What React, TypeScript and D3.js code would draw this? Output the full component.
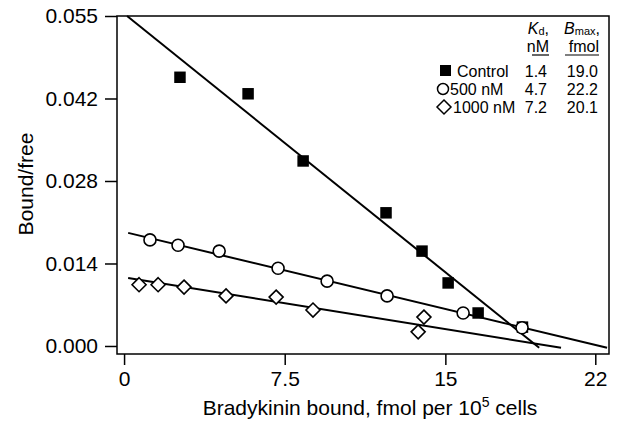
import React, { useEffect, useRef } from 'react'
import { select, scaleLinear, axisLeft, axisBottom, line, symbol, symbolSquare } from 'd3'

// values
const xTicks = [0, 7.5, 15, 22]
const yTicks = [0, 0.014, 0.028, 0.042, 0.056]
const yTickLabels = ['0.000', '0.014', '0.028', '0.042', '0.055']

const controlX = [2.61, 5.79, 8.36, 12.23, 13.91, 15.13, 16.53, 18.6]
const controlY = [0.0456, 0.0428, 0.0314, 0.0226, 0.0161, 0.0107, 0.0056, 0.0032]
const nm500X = [1.21, 2.52, 4.44, 7.19, 9.48, 12.28, 15.83, 18.58]
const nm500Y = [0.018, 0.0171, 0.0161, 0.0132, 0.011, 0.0085, 0.0056, 0.0031]
const nm1000X = [0.7, 1.59, 2.8, 4.76, 7.1, 8.82, 13.73, 14.0]
const nm1000Y = [0.0104, 0.0104, 0.01, 0.0085, 0.0083, 0.0061, 0.0024, 0.0049]

// fitted lines: [start, end] in data units
const controlFit = [[0.14, 0.056], [19.38, -0.0003]]
const nm500Fit = [[0.19, 0.0192], [22.55, -0.0003]]
const nm1000Fit = [[0.19, 0.01154], [20.4, -0.0003]]

const legendNames = ['Control', '500 nM', '1000 nM']
const legendKd = ['1.4', '4.7', '7.2']
const legendBmax = ['19.0', '22.2', '20.1']

const FONT = 'Liberation Sans, Arial, Helvetica, sans-serif'

function Chart() {
  const ref = useRef(null)

  useEffect(() => {
    const svg = select(ref.current)
    svg.selectAll('*').remove()

    const left = 117, right = 609, top = 16, bottom = 354

    const x = scaleLinear().domain([-0.33, 22.64]).range([left, right])
    const y = scaleLinear().domain([-0.00136, 0.056]).range([bottom, top])

    // frame
    svg.append('rect')
      .attr('x', left).attr('y', top)
      .attr('width', right - left).attr('height', bottom - top)
      .attr('fill', 'none').attr('stroke', '#000').attr('stroke-width', 1.5)

    const yAxis = svg.append('g')
      .attr('transform', `translate(${left},0)`)
      .call(axisLeft(y).tickValues(yTicks).tickSize(12).tickPadding(7)
        .tickFormat((d, i) => yTickLabels[i]))
    yAxis.select('.domain').remove()
    yAxis.selectAll('line').attr('stroke-width', 1.5)
    yAxis.selectAll('text').attr('font-size', 21).attr('font-family', FONT).attr('fill', '#000')

    const xAxis = svg.append('g')
      .attr('transform', `translate(0,${bottom})`)
      .call(axisBottom(x).tickValues(xTicks).tickSize(11).tickPadding(6)
        .tickFormat(d => String(d)))
    xAxis.select('.domain').remove()
    xAxis.selectAll('line').attr('stroke-width', 1.5)
    xAxis.selectAll('text').attr('font-size', 21).attr('font-family', FONT).attr('fill', '#000')

    // axis titles
    const xt = svg.append('text')
      .attr('x', 370).attr('y', 415)
      .attr('text-anchor', 'middle')
      .attr('font-size', 21).attr('font-family', FONT)
    xt.append('tspan').text('Bradykinin bound, fmol per 10')
    xt.append('tspan').attr('font-size', 14).attr('dy', -8).text('5')
    xt.append('tspan').attr('dy', 8).text(' cells')

    svg.append('text')
      .attr('transform', 'translate(33,184) rotate(-90)')
      .attr('text-anchor', 'middle')
      .attr('font-size', 21).attr('font-family', FONT)
      .text('Bound/free')

    // fit lines
    const ln = line().x(d => x(d[0])).y(d => y(d[1]))
    ;[controlFit, nm500Fit, nm1000Fit].forEach(f => {
      svg.append('path').attr('d', ln(f))
        .attr('fill', 'none').attr('stroke', '#000').attr('stroke-width', 2)
    })

    // control: filled squares
    const sq = symbol().type(symbolSquare).size(132)
    svg.append('g').selectAll('path')
      .data(controlX.map((v, i) => [v, controlY[i]]))
      .enter().append('path')
      .attr('d', sq())
      .attr('transform', d => `translate(${x(d[0])},${y(d[1])})`)
      .attr('fill', '#000')

    // 500 nM: open circles
    svg.append('g').selectAll('circle')
      .data(nm500X.map((v, i) => [v, nm500Y[i]]))
      .enter().append('circle')
      .attr('cx', d => x(d[0])).attr('cy', d => y(d[1]))
      .attr('r', 6)
      .attr('fill', '#fff').attr('stroke', '#000').attr('stroke-width', 1.6)

    // 1000 nM: open diamonds
    const dia = 'M0,-7L7,0L0,7L-7,0Z'
    svg.append('g').selectAll('path')
      .data(nm1000X.map((v, i) => [v, nm1000Y[i]]))
      .enter().append('path')
      .attr('d', dia)
      .attr('transform', d => `translate(${x(d[0])},${y(d[1])})`)
      .attr('fill', '#fff').attr('stroke', '#000').attr('stroke-width', 1.6)

    // legend table
    const lg = svg.append('g').attr('font-family', FONT).attr('font-size', 16).attr('fill', '#000')
    const kd = lg.append('text').attr('x', 549).attr('y', 34).attr('text-anchor', 'end')
    kd.append('tspan').attr('font-style', 'italic').text('K')
    kd.append('tspan').attr('font-size', 11).attr('dy', 1).text('d')
    kd.append('tspan').attr('dy', -1).text(',')
    lg.append('text').attr('x', 549).attr('y', 52).attr('text-anchor', 'end').text('nM')

    const bm = lg.append('text').attr('x', 600).attr('y', 34).attr('text-anchor', 'end')
    bm.append('tspan').attr('font-style', 'italic').text('B')
    bm.append('tspan').attr('font-size', 11).attr('dy', 1).text('max')
    bm.append('tspan').attr('dy', -1).text(',')
    lg.append('text').attr('x', 599).attr('y', 52).attr('text-anchor', 'end').text('fmol')

    lg.append('line').attr('x1', 532).attr('x2', 549).attr('y1', 55).attr('y2', 55)
      .attr('stroke', '#000').attr('stroke-width', 1.2)
    lg.append('line').attr('x1', 565).attr('x2', 599).attr('y1', 55).attr('y2', 55)
      .attr('stroke', '#000').attr('stroke-width', 1.2)

    const labelX = [457, 450, 453]
    legendNames.forEach((name, i) => {
      const by = 77 + i * 18
      lg.append('text').attr('x', labelX[i]).attr('y', by).text(name)
      lg.append('text').attr('x', 547).attr('y', by).attr('text-anchor', 'end').text(legendKd[i])
      lg.append('text').attr('x', 598).attr('y', by).attr('text-anchor', 'end').text(legendBmax[i])
    })
    lg.append('rect').attr('x', 440).attr('y', 65).attr('width', 11).attr('height', 11).attr('fill', '#000')
    lg.append('circle').attr('cx', 443).attr('cy', 89).attr('r', 5.5)
      .attr('fill', '#fff').attr('stroke', '#000').attr('stroke-width', 1.5)
    lg.append('path').attr('d', 'M444,100L451,107L444,114L437,107Z')
      .attr('fill', '#fff').attr('stroke', '#000').attr('stroke-width', 1.5)
  }, [])

  return (
    <svg ref={ref} width={635} height={421}
      style={{ position: 'fixed', left: 0, top: 0, display: 'block', background: '#fff' }}></svg>
  )
}

export default function App() {
  return <Chart />
}
